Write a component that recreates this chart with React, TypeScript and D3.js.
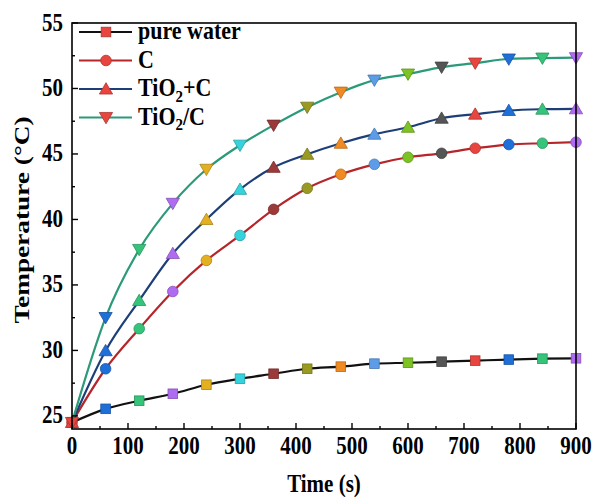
import React from "react";
import * as d3 from "d3";

const times = [0, 60, 120, 180, 240, 300, 360, 420, 480, 540, 600, 660, 720, 780, 840, 900];
const pureWater = [24.5, 25.54, 26.16, 26.69, 27.38, 27.84, 28.22, 28.6, 28.76, 28.99, 29.06, 29.14, 29.22, 29.3, 29.37, 29.4];
const carbon = [24.5, 28.6, 31.66, 34.5, 36.87, 38.78, 40.77, 42.38, 43.45, 44.21, 44.75, 45.05, 45.44, 45.72, 45.82, 45.9];
const tio2PlusC = [24.5, 29.98, 33.81, 37.4, 40.0, 42.3, 43.98, 44.98, 45.82, 46.51, 47.04, 47.73, 48.04, 48.32, 48.42, 48.45];
const tio2SlashC = [24.5, 32.51, 37.71, 41.23, 43.83, 45.67, 47.2, 48.57, 49.72, 50.64, 51.1, 51.63, 51.94, 52.25, 52.32, 52.35];

const seriesNames = ["pure water", "C", "TiO2+C", "TiO2/C"];
const seriesValues = [pureWater, carbon, tio2PlusC, tio2SlashC];
const lineColors = ["#111111", "#b5252a", "#1d3f78", "#2a9a78"];
const shapes = ["square", "circle", "up", "down"];
const pointColors = ["#e8453f", "#1f6fd8", "#35c47a", "#b06cf0", "#e2b021", "#34d3de", "#9c3a3a", "#9a9a22", "#f08a22", "#5d9de8", "#7cc323", "#555555", "#e8453f", "#1f6fd8", "#35c47a", "#b06cf0"];
const legendColor = "#e8453f";

const xTicks = [0, 100, 200, 300, 400, 500, 600, 700, 800, 900];
const yTicks = [25, 30, 35, 40, 45, 50, 55];

const W = 595, H = 497;
const L = 72, R = 576, T = 23, B = 429;
const FONT = "'Liberation Serif', 'Times New Roman', serif";

function Marker({ shape, x, y, fill }: { shape: string; x: number; y: number; fill: string }) {
  const stroke = d3.color(fill)!.darker(0.8).toString();
  if (shape === "square") return <rect x={x - 4.8} y={y - 4.8} width={9.6} height={9.6} fill={fill} stroke={stroke} strokeWidth={0.8} />;
  if (shape === "circle") return <circle cx={x} cy={y} r={5.3} fill={fill} stroke={stroke} strokeWidth={0.8} />;
  const s = 6.3;
  if (shape === "up") return <path d={`M${x},${y - s}L${x + s * 1.05},${y + s * 0.8}L${x - s * 1.05},${y + s * 0.8}Z`} fill={fill} stroke={stroke} strokeWidth={0.8} />;
  return <path d={`M${x},${y + s}L${x + s * 1.05},${y - s * 0.8}L${x - s * 1.05},${y - s * 0.8}Z`} fill={fill} stroke={stroke} strokeWidth={0.8} />;
}

function Label({ name }: { name: string }) {
  if (name.startsWith("TiO2")) {
    return (
      <>
        TiO<tspan fontSize={15} dy={5}>2</tspan>
        <tspan dy={-5}>{name.slice(4)}</tspan>
      </>
    );
  }
  return <>{name}</>;
}

export default function App() {
  const x = d3.scaleLinear().domain([0, 900]).range([L, R]);
  const y = d3.scaleLinear().domain([24, 55]).range([B, T]);
  const line = d3.line<number>().x((_, i) => x(times[i])).y((d) => y(d)).curve(d3.curveMonotoneX);
  const xMinor = d3.range(50, 900, 100);
  const yMinor = d3.range(27.5, 55, 5);

  return (
    <svg width={W} height={H} style={{ position: "absolute", left: 0, top: 0, background: "#fff" }} fontFamily={FONT}>
      <rect x={0} y={0} width={W} height={H} fill="#fff" />
      {seriesValues.map((vals, si) => (
        <path key={si} d={line(vals)!} fill="none" stroke={lineColors[si]} strokeWidth={2.2} />
      ))}
      {seriesValues.map((vals, si) =>
        vals.map((v, i) => <Marker key={si + "-" + i} shape={shapes[si]} x={x(times[i])} y={y(v)} fill={pointColors[i]} />)
      )}
      <rect x={L} y={T} width={R - L} height={B - T} fill="none" stroke="#000" strokeWidth={1.6} />
      {xTicks.map((t) => (
        <line key={"xt" + t} x1={x(t)} x2={x(t)} y1={B} y2={B - 6} stroke="#000" strokeWidth={1.4} />
      ))}
      {xMinor.map((t) => (
        <line key={"xm" + t} x1={x(t)} x2={x(t)} y1={B} y2={B - 3} stroke="#000" strokeWidth={1.4} />
      ))}
      {yTicks.map((t) => (
        <line key={"yt" + t} x1={L} x2={L + 6} y1={y(t)} y2={y(t)} stroke="#000" strokeWidth={1.4} />
      ))}
      {yMinor.map((t) => (
        <line key={"ym" + t} x1={L} x2={L + 3} y1={y(t)} y2={y(t)} stroke="#000" strokeWidth={1.4} />
      ))}
      {xTicks.map((t) => (
        <text key={"xl" + t} transform={`translate(${x(t)},${B + 25}) scale(1,1.22)`} textAnchor="middle" fontSize={21} fontWeight="bold">
          {t}
        </text>
      ))}
      {yTicks.map((t) => (
        <text key={"yl" + t} transform={`translate(${L - 9},${y(t) + 7.5}) scale(1,1.22)`} textAnchor="end" fontSize={21} fontWeight="bold">
          {t}
        </text>
      ))}
      <text transform={`translate(${(L + R) / 2},${B + 63}) scale(1,1.2)`} textAnchor="middle" fontSize={21} fontWeight="bold">
        Time (s)
      </text>
      <text transform={`translate(29,220) rotate(-90) scale(1.3,1)`} textAnchor="middle" fontSize={21} fontWeight="bold">
        Temperature (°C)
      </text>
      {seriesNames.map((n, i) => {
        const ly = 32 + i * 28.5;
        return (
          <g key={n}>
            <line x1={79} x2={132} y1={ly} y2={ly} stroke={lineColors[i]} strokeWidth={2.2} />
            <Marker shape={shapes[i]} x={106} y={ly} fill={legendColor} />
            <text transform={`translate(138,${ly + 7}) scale(1,1.18)`} fontSize={22} fontWeight="bold">
              <Label name={n} />
            </text>
          </g>
        );
      })}
    </svg>
  );
}
